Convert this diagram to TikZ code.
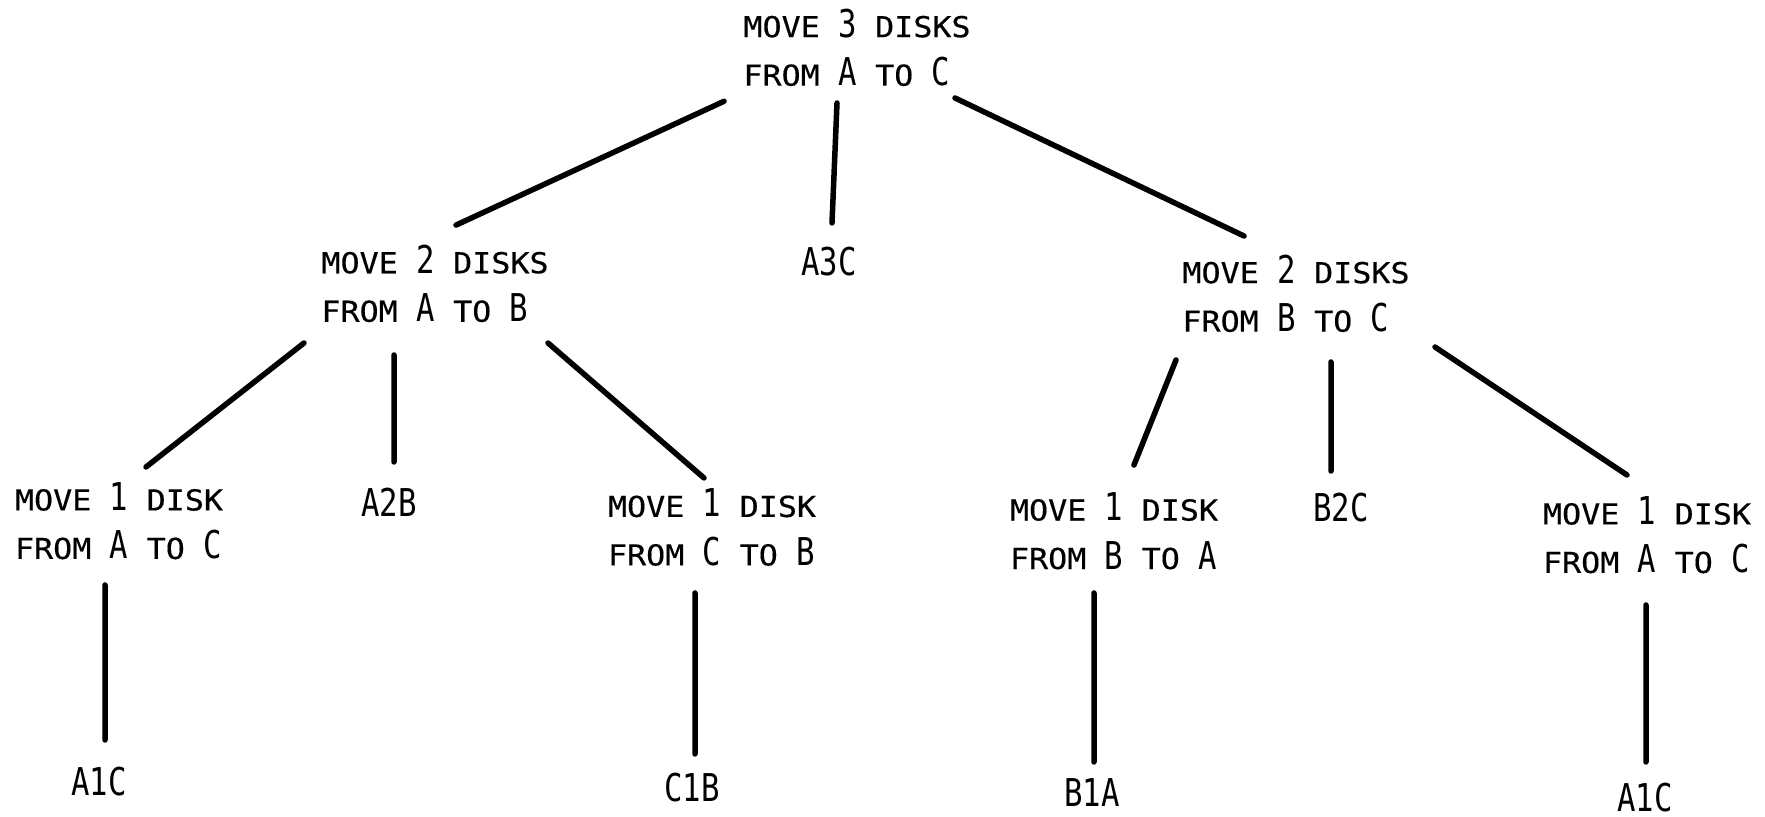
\documentclass[tikz,border=0pt]{standalone}
\usepackage{fontspec}
\usetikzlibrary{positioning}
\newfontfamily\capsfont[FakeStretch=1.1,FakeBold=0.4]{DejaVu Sans Mono}
\newfontfamily\bigfont[FakeStretch=0.8]{DejaVu Sans Mono}
\newcommand\sw[1]{{\capsfont\fontsize{8.2}{13.8}\selectfont #1}}
\tikzset{
  movebox/.style={align=left, inner sep=0pt, outer sep=0pt,
    font=\bigfont\fontsize{10.9}{13.8}\selectfont},
  edge/.style={draw, line width=0.55mm, line cap=round}
}

\begin{document}
\begin{tikzpicture}[x=0.1mm, y=-0.1mm, on grid]
\useasboundingbox (0,0) rectangle (1765,817);

\node[movebox] (root) at (857,47.5) {\sw{MOVE} 3 \sw{DISKS}\\\sw{FROM} A \sw{TO} C};
\node[movebox] (mA) [below left=23.6mm and 42.2mm of root] {\sw{MOVE} 2 \sw{DISKS}\\\sw{FROM} A \sw{TO} B};
\node[movebox] (a3c) [below left=21.45mm and 2.8mm of root] {A3C};
\node[movebox] (mB) [below right=24.6mm and 43.9mm of root] {\sw{MOVE} 2 \sw{DISKS}\\\sw{FROM} B \sw{TO} C};

\node[movebox] (mAC1) [below left=23.75mm and 31.6mm of mA] {\sw{MOVE} 1 \sw{DISK}\\\sw{FROM} A \sw{TO} C};
\node[movebox] (a2b) [below left=21.85mm and 4.6mm of mA] {A2B};
\node[movebox] (mCB) [below right=24.4mm and 27.7mm of mA] {\sw{MOVE} 1 \sw{DISK}\\\sw{FROM} C \sw{TO} B};
\node[movebox] (mBA) [below left=23.75mm and 18.2mm of mB] {\sw{MOVE} 1 \sw{DISK}\\\sw{FROM} B \sw{TO} A};
\node[movebox] (b2c) [below right=21.45mm and 4.5mm of mB] {B2C};
\node[movebox] (mAC2) [below right=24.15mm and 35.1mm of mB] {\sw{MOVE} 1 \sw{DISK}\\\sw{FROM} A \sw{TO} C};

\node[movebox] (a1c1) [below left=26.1mm and 2.0mm of mAC1] {A1C};
\node[movebox] (c1b) [below left=26.05mm and 2.0mm of mCB] {C1B};
\node[movebox] (b1a) [below left=26.2mm and 2.2mm of mBA] {B1A};
\node[movebox] (a1c2) [below left=26.3mm and 0.2mm of mAC2] {A1C};

\draw [edge] ([shift={(-133,53.8)}]root.center) -- ([shift={(21,-58.4)}]mA.center);
\draw [edge] ([shift={(-20,55.5)}]root.center) -- ([shift={(3,-39)}]a3c.center);
\draw [edge] ([shift={(98,50.5)}]root.center) -- ([shift={(-52,-57.5)}]mB.center);

\draw [edge] ([shift={(-131,59.5)}]mA.center) -- ([shift={(27,-54)}]mAC1.center);
\draw [edge] ([shift={(-41,71.5)}]mA.center) -- ([shift={(5,-40)}]a2b.center);
\draw [edge] ([shift={(113,59.5)}]mA.center) -- ([shift={(-8,-49.5)}]mCB.center);

\draw [edge] ([shift={(-120,66.5)}]mB.center) -- ([shift={(20,-66)}]mBA.center);
\draw [edge] ([shift={(35,68.5)}]mB.center) -- ([shift={(-10,-37)}]b2c.center);
\draw [edge] ([shift={(139,53.5)}]mB.center) -- ([shift={(-20,-60)}]mAC2.center);

\draw [edge] ([shift={(-14,64)}]mAC1.center) -- ([shift={(6,-42)}]a1c1.center);
\draw [edge] ([shift={(-17,65.5)}]mCB.center) -- ([shift={(3,-34)}]c1b.center);
\draw [edge] ([shift={(-20,62)}]mBA.center) -- ([shift={(2,-31)}]b1a.center);
\draw [edge] ([shift={(-1,70)}]mAC2.center) -- ([shift={(1,-36)}]a1c2.center);

\end{tikzpicture}
\end{document}
